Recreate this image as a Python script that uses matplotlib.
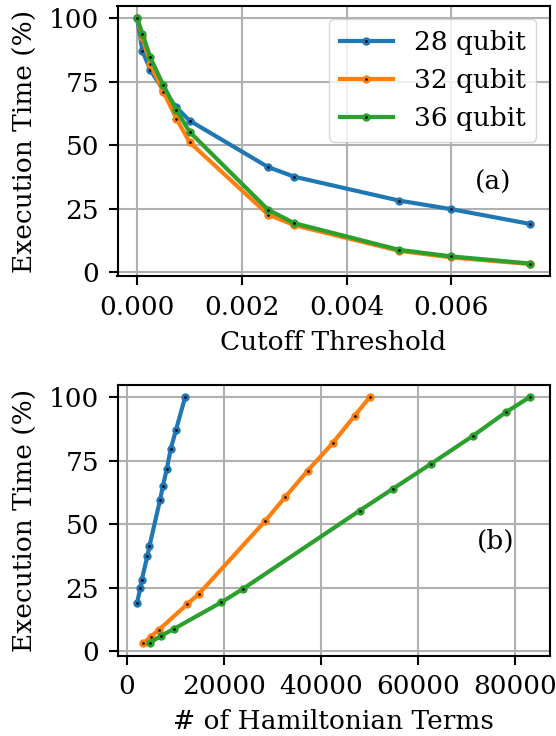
import numpy as np
import matplotlib
matplotlib.use("Agg")
from matplotlib import pyplot as plt

plt.rcParams['font.family'] = 'DejaVu Serif'
plt.rcParams['font.size'] = 19
plt.rcParams['axes.linewidth'] = 1.5
plt.rcParams['axes.labelpad'] = 7.6
for a in ('xtick', 'ytick'):
    plt.rcParams[a + '.major.size'] = 6.6
    plt.rcParams[a + '.major.width'] = 1.5
    plt.rcParams[a + '.major.pad'] = 6.6

labels = ['28 qubit', '32 qubit', '36 qubit']
colors = ['#1f77b4', '#ff7f0e', '#2ca02c']

# cutoff thresholds (same for all qubit counts)
cutoff = [0, 0.0001, 0.00025, 0.0005, 0.00075, 0.001, 0.0025, 0.003, 0.005, 0.006, 0.0075]

# execution time (%)
time_28 = [100, 87.2, 79.7, 71.7, 64.9, 59.7, 41.4, 37.6, 28.2, 24.8, 19.0]
time_32 = [100, 92.7, 82.1, 71.1, 60.5, 51.2, 22.7, 18.5, 8.4, 5.8, 3.2]
time_36 = [100, 94.0, 84.7, 73.6, 63.9, 55.3, 24.6, 19.3, 8.8, 6.2, 3.4]

# number of Hamiltonian terms
terms_28 = [12015, 10160, 9060, 8240, 7420, 6870, 4670, 4260, 3090, 2750, 2130]
terms_32 = [50060, 46960, 42500, 37290, 32550, 28490, 14900, 12430, 6590, 4940, 3430]
terms_36 = [83020, 78070, 71280, 62560, 54800, 47940, 23960, 19500, 9680, 7140, 4800]

times = [time_28, time_32, time_36]
terms = [terms_28, terms_32, terms_36]

W, H = 556, 736
fig = plt.figure(figsize=(W / 100, H / 100), dpi=100)
ax1 = fig.add_axes([117.5 / W, 1 - 276.3 / H, 432 / W, 270.3 / H])
ax2 = fig.add_axes([117.5 / W, 1 - 655.5 / H, 432 / W, 270.8 / H])

style = dict(lw=3, marker='o', ms=4, mfc='k', mew=2)

for t, lab, c in zip(times, labels, colors):
    ax1.plot(cutoff, t, color=c, mec=c, label=lab, **style)
ax1.set_xlabel('Cutoff Threshold')
ax1.set_ylabel('Execution Time (%)')
ax1.set_xticks([0, 0.002, 0.004, 0.006])
ax1.set_yticks([0, 25, 50, 75, 100])
ax1.grid(True, color='#b0b0b0', lw=1.5)
ax1.legend(loc='upper right')
ax1.text(0.0068, 35.5, '(a)', ha='center', va='center')

for n, t, c in zip(terms, times, colors):
    ax2.plot(n, t, color=c, mec=c, **style)
ax2.set_xlabel('# of Hamiltonian Terms')
ax2.set_ylabel('Execution Time (%)')
ax2.set_xticks([0, 20000, 40000, 60000, 80000])
ax2.set_yticks([0, 25, 50, 75, 100])
ax2.grid(True, color='#b0b0b0', lw=1.5)
ax2.text(75900, 43.2, '(b)', ha='center', va='center')

fig.savefig('out.png', dpi=100)
